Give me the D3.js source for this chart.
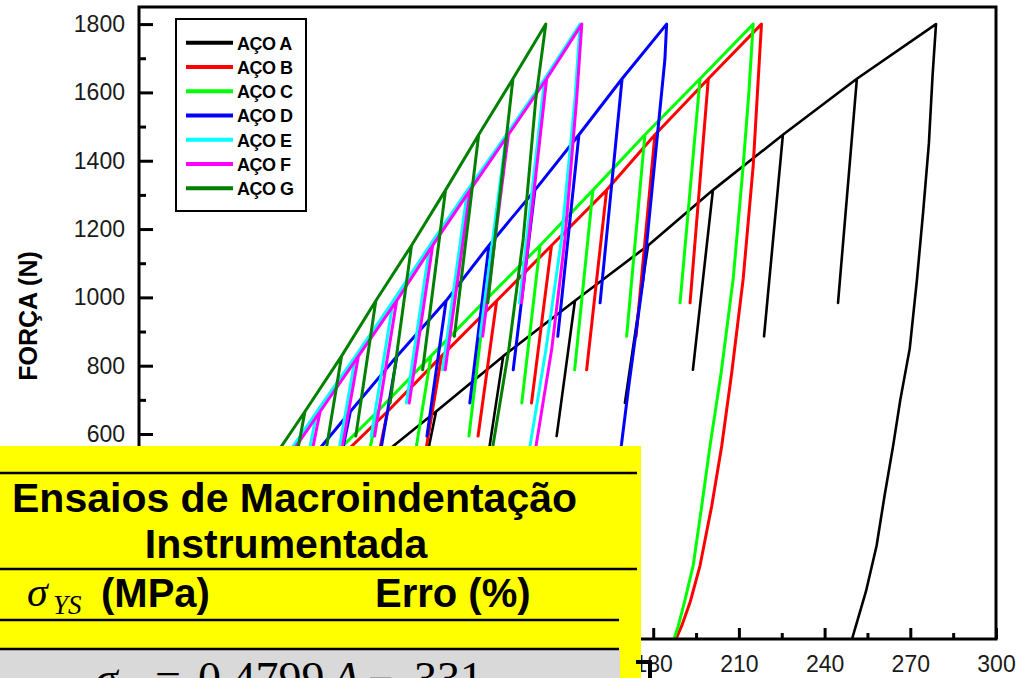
<!DOCTYPE html>
<html>
<head>
<meta charset="utf-8">
<title>Força x profundidade</title>
<script src="https://cdnjs.cloudflare.com/ajax/libs/d3/7.8.5/d3.min.js"></script>
<style>
  body { margin: 0; background: #fff; }
  svg { display: block; font-family: "Liberation Sans", Arial, sans-serif; }
</style>
</head>
<body>
<script>
// ---- data (depth in x units, load in N) ----
var steelNames = ["AÇO A", "AÇO B", "AÇO C", "AÇO D", "AÇO E", "AÇO F", "AÇO G"];
var steelColors = ["#000000", "#ff0000", "#00ff00", "#0000ff", "#00ffff", "#ff00ff", "#008000"];

var peakLoads = [180, 342, 504, 666, 828, 990, 1152, 1314, 1476, 1640, 1800];
var unloadLoads = [108, 205, 302, 400, 497, 594, 691, 788, 886, 984];

var peakA = [30, 55, 80, 104, 127.5, 152.6, 178.2, 200.9, 225.4, 251.3, 279.0];
var unloadA = [25, 49, 74, 97.5, 121.5, 146.2, 170.1, 193.9, 218.8, 244.7];
var finalA = [[279, 1800], [277.8, 1650], [276.5, 1450], [274.5, 1250], [272.3, 1050], [269.8, 850], [266.5, 700], [264, 566], [261, 420], [258.2, 273], [254.5, 140], [251, 40], [249.6, 0]];

var peakB = [26, 47, 67, 87, 105.9, 125.2, 144.4, 163.7, 180.6, 199.3, 217.9];
var unloadB = [22, 42, 61, 80.5, 99.3, 118.7, 137.4, 156.7, 174.0, 192.9];
var finalB = [[217.9, 1800], [216.5, 1600], [215, 1385], [211.5, 1054], [207.5, 780], [204, 566], [200.5, 390], [196.4, 215], [193, 110], [190, 39], [188, 0]];

var peakC = [25, 45, 64, 83.5, 102.2, 121.1, 140.4, 158.9, 177.1, 196.4, 215.0];
var unloadC = [21, 40, 58, 77, 95.8, 115.5, 134.0, 152.5, 170.7, 189.4];
var finalC = [[215, 1800], [213.5, 1600], [211.5, 1385], [208, 1054], [203.8, 780], [199.9, 566], [197, 390], [194, 215], [191, 110], [188.8, 39], [187.3, 0]];

var peakD = [22, 41, 58, 74, 90.3, 107.5, 122.5, 138.6, 154.0, 169.1, 184.7];
var unloadD = [19, 36, 52, 67.5, 83.5, 100.8, 115.8, 131.0, 146.6, 161.4];
var finalD = [[184.7, 1800], [184.1, 1697], [176.5, 1054], [171.3, 731], [168.9, 570], [165, 380], [161, 200], [158, 80], [156, 0]];

var peakE = [18.5, 34.5, 49, 62.3, 75.8, 89.0, 101.8, 115.0, 128.6, 142.0, 154.4];
var unloadE = [15, 30, 43.5, 56, 68.8, 81.3, 93.6, 106.3, 119.4, 133.2];
var finalE = [[154.4, 1800], [152.6, 1580], [147.9, 1171], [142.5, 850], [136.9, 566], [131, 300], [127, 120], [124.5, 0]];

var peakF = [19, 35.5, 50, 63.4, 76.8, 90.2, 102.8, 115.9, 129.3, 142.7, 155.0];
var unloadF = [15.5, 31, 44.5, 57, 69.8, 82.5, 94.6, 107.2, 120.3, 133.9];
var finalF = [[155, 1800], [153.2, 1580], [149.1, 1171], [144.5, 850], [139, 566], [133, 300], [129, 120], [126.5, 0]];

var peakG = [16, 31, 45, 58.1, 70.9, 82.9, 95.4, 107.3, 118.9, 130.9, 142.4];
var unloadG = [13, 27, 40, 52.1, 64.4, 75.9, 87.9, 99.3, 110.4, 122.1];
var finalG = [[142.4, 1800], [138.9, 1580], [134.5, 1171], [129.5, 850], [123.9, 566], [118, 300], [114, 120], [111.5, 0]];

var xTicks = [0, 30, 60, 90, 120, 150, 180, 210, 240, 270, 300];
var xMinor = d3.range(15, 300, 30);
var yTicks = [0, 200, 400, 600, 800, 1000, 1200, 1400, 1600, 1800];
var yMinor = d3.range(100, 1850, 200);

// ---- chart ----
var width = 1019, height = 678;
var svg = d3.select("body").append("svg")
    .attr("width", width)
    .attr("height", height);

var x = d3.scaleLinear().domain([0, 300]).range([139, 996]);
var y = d3.scaleLinear().domain([0, 1850]).range([639, 7]);

function buildPath(peaks, unloads, last) {
    var pts = [[0, 0]];
    peaks.forEach(function(h, i) {
        pts.push([h, peakLoads[i]]);
        if (i < unloads.length) {
            pts.push([unloads[i], unloadLoads[i]]); // unload
            pts.push([h, peakLoads[i]]);            // reload
        }
    });
    return pts.concat(last.slice(1));
}

var series = [
    buildPath(peakA, unloadA, finalA),
    buildPath(peakB, unloadB, finalB),
    buildPath(peakC, unloadC, finalC),
    buildPath(peakD, unloadD, finalD),
    buildPath(peakE, unloadE, finalE),
    buildPath(peakF, unloadF, finalF),
    buildPath(peakG, unloadG, finalG)
];

var line = d3.line()
    .x(function(d) { return x(d[0]); })
    .y(function(d) { return y(d[1]); });

svg.append("g").selectAll("path")
    .data(series)
    .enter().append("path")
    .attr("d", line)
    .attr("fill", "none")
    .attr("stroke", function(d, i) { return steelColors[i]; })
    .attr("stroke-width", function(d, i) { return i == 0 ? 2.6 : 3; })
    .attr("stroke-linejoin", "round");

// axes (ticks point inward); labels under the yellow table are left out
var gx = svg.append("g").attr("transform", "translate(0,639)")
    .call(d3.axisBottom(x).tickValues(xTicks).tickSizeInner(-11).tickSizeOuter(0).tickPadding(17)
        .tickFormat(function(d) { return d < 180 ? "" : d; }));
svg.append("g").attr("transform", "translate(0,639)")
    .call(d3.axisBottom(x).tickValues(xMinor).tickSizeInner(-6).tickSizeOuter(0).tickFormat(""));
var gy = svg.append("g").attr("transform", "translate(139,0)")
    .call(d3.axisLeft(y).tickValues(yTicks).tickSizeInner(-14).tickSizeOuter(0).tickPadding(14)
        .tickFormat(function(d) { return d < 600 ? "" : d; }));
svg.append("g").attr("transform", "translate(139,0)")
    .call(d3.axisLeft(y).tickValues(yMinor).tickSizeInner(-7).tickSizeOuter(0).tickFormat(""));

svg.selectAll(".domain").remove();
svg.selectAll(".tick line").attr("stroke", "#000").attr("stroke-width", 3);
svg.selectAll(".tick text")
    .attr("font-family", "Liberation Sans, Arial, sans-serif")
    .attr("font-size", 23)
    .attr("fill", "#1a1a1a");

// frame
svg.append("rect")
    .attr("x", 139).attr("y", 7)
    .attr("width", 857).attr("height", 632)
    .attr("fill", "none").attr("stroke", "#000").attr("stroke-width", 3);

svg.append("text")
    .attr("transform", "translate(37,316) rotate(-90)")
    .attr("text-anchor", "middle")
    .attr("font-size", 25).attr("font-weight", "bold")
    .text("FORÇA (N)");

// legend
var legend = svg.append("g");
legend.append("rect")
    .attr("x", 176).attr("y", 19).attr("width", 130).attr("height", 192)
    .attr("fill", "#fff").attr("stroke", "#000").attr("stroke-width", 2);
var items = legend.selectAll("g.item").data(steelNames).enter().append("g")
    .attr("transform", function(d, i) { return "translate(0," + (42.7 + i * 24.25) + ")"; });
items.append("line")
    .attr("x1", 186).attr("x2", 233)
    .attr("stroke", function(d, i) { return steelColors[i]; })
    .attr("stroke-width", 4);
items.append("text")
    .attr("x", 237).attr("y", 7)
    .attr("font-size", 18).attr("font-weight", "bold")
    .attr("letter-spacing", -0.5)
    .text(function(d) { return d; });

// yellow table on top
var tbl = svg.append("g");
tbl.append("rect").attr("x", 0).attr("y", 446).attr("width", 641).attr("height", 232).attr("fill", "#ffff00");
tbl.append("rect").attr("x", 0).attr("y", 650).attr("width", 620).attr("height", 28).attr("fill", "#d9d9d9");
[[473, 637], [569, 637], [620, 619], [649, 619]].forEach(function(r) {
    tbl.append("line").attr("x1", 0).attr("x2", r[1]).attr("y1", r[0]).attr("y2", r[0])
        .attr("stroke", "#000").attr("stroke-width", 2.5);
});
tbl.append("path").attr("d", "M636,662 H650 V678").attr("fill", "none")
    .attr("stroke", "#000").attr("stroke-width", 4);

tbl.append("text").attr("x", 12).attr("y", 512)
    .attr("font-size", 41).attr("font-weight", "bold")
    .text("Ensaios de Macroindentação");
tbl.append("text").attr("x", 286).attr("y", 558).attr("text-anchor", "middle")
    .attr("font-size", 41).attr("font-weight", "bold")
    .text("Instrumentada");

tbl.append("text").attr("x", 27).attr("y", 606)
    .attr("font-family", "Liberation Serif, serif").attr("font-style", "italic").attr("font-size", 42)
    .text("σ");
tbl.append("text").attr("x", 53).attr("y", 614)
    .attr("font-family", "Liberation Serif, serif").attr("font-style", "italic").attr("font-size", 27)
    .text("YS");
tbl.append("text").attr("x", 101).attr("y", 607)
    .attr("font-size", 40).attr("font-weight", "bold")
    .text("(MPa)");
tbl.append("text").attr("x", 375).attr("y", 607)
    .attr("font-size", 40).attr("font-weight", "bold")
    .text("Erro (%)");

var formula = [["σ", 95], ["=", 155], ["0.4799", 198], ["A", 332], ["−", 368], ["331", 414]];
formula.forEach(function(f) {
    tbl.append("text").attr("x", f[1]).attr("y", 694)
        .attr("font-family", "Liberation Serif, serif").attr("font-size", 46)
        .attr("font-style", f[0] == "σ" || f[0] == "A" ? "italic" : "normal")
        .text(f[0]);
});
</script>
</body>
</html>
